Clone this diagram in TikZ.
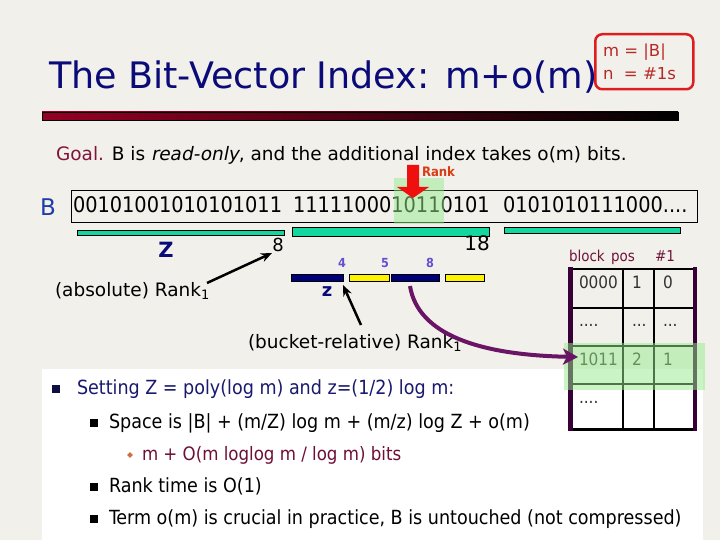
\documentclass[tikz,border=0pt]{standalone}
\usepackage{fontspec}
\setmainfont{DejaVu Sans}
\newfontfamily\cond{DejaVu Sans Condensed}
\newfontfamily\regit{DejaVu Sans}[FakeSlant=0.2]
\usetikzlibrary{arrows.meta,shapes.geometric}
\definecolor{bgc}{RGB}{242,240,234}
\definecolor{navyc}{RGB}{10,10,120}
\definecolor{redbox}{RGB}{222,30,30}
\definecolor{redtxt}{RGB}{185,40,40}
\definecolor{barL}{RGB}{150,0,35}
\definecolor{goalc}{RGB}{128,20,60}
\definecolor{rankc}{RGB}{215,60,20}
\definecolor{arrred}{RGB}{240,15,15}
\definecolor{blueB}{RGB}{30,60,170}
\definecolor{hlgreen}{RGB}{150,235,140}
\definecolor{tealbar}{RGB}{20,215,160}
\definecolor{navybar}{RGB}{0,0,120}
\definecolor{numc}{RGB}{100,80,210}
\definecolor{purp}{RGB}{105,20,100}
\definecolor{tabborder}{RGB}{55,0,55}
\definecolor{hdrc}{RGB}{110,20,60}
\definecolor{cellc}{RGB}{50,50,50}
\definecolor{lvl1}{RGB}{25,25,110}
\definecolor{lvl3}{RGB}{110,15,55}
\definecolor{diamc}{RGB}{205,110,60}
\tikzset{
  txt/.style={anchor=base west, inner sep=0pt, outer sep=0pt},
  tbar/.style={draw=black, line width=0.8pt, fill=tealbar},
  nbar/.style={draw=black, line width=0.6pt, fill=navybar},
  ybar/.style={draw=black, line width=0.6pt, fill=yellow},
  num/.style={inner sep=0pt, text=numc, font=\cond\bfseries\fontsize{12.5}{13}\selectfont},
  cell/.style={txt, text=cellc, font=\cond\fontsize{17}{18}\selectfont},
  blk/.style={arrows={-Stealth[length=11pt,width=9pt]}, line width=2.5pt, black},
  sq/.style={fill=#1, minimum size=8pt, inner sep=0pt},
  bl/.style={txt, font=\cond\fontsize{19.5}{22}\selectfont},
}
\begin{document}
\begin{tikzpicture}[x=1pt,y=-1pt]
\fill[bgc] (0,0) rectangle (720,540);
\useasboundingbox (0,0) rectangle (720,540);
\fill[white] (42,369) rectangle (703,540);
% title
\node[txt, text=navyc, font=\fontsize{36.5}{40}\selectfont] (title) at (49,89) {The Bit-Vector Index: m+o(m)};
\node[draw=redbox, line width=2.5pt, rounded corners=7pt, minimum width=98pt, minimum height=55pt, anchor=north west, inner sep=0pt] (defs) at (594,33) {};
\node[txt, text=redtxt, font=\fontsize{16.5}{20}\selectfont] (mdef) at (603,57) {m = |B|};
\node[txt, text=redtxt, font=\fontsize{16.5}{20}\selectfont] (ndef) at (603,80) {n\ \ = \#1s};
\shade[left color=barL, right color=black, draw=black, line width=0.4pt] (42,112) rectangle (678,120);
% goal
\node[txt, font=\fontsize{18.5}{20}\selectfont] (goal) at (56,161) {\textcolor{goalc}{Goal.} B is {\regit read-only}, and the additional index takes o(m) bits.};
% bit vector
\node[txt, text=blueB, font=\fontsize{23}{24}\selectfont] (Blab) at (40,215) {B};
\node[draw=black, line width=0.9pt, minimum width=626pt, minimum height=32pt, anchor=north west, inner sep=0pt] (bbox) at (71,190) {};
\node[txt, font=\cond\fontsize{21.5}{24}\selectfont] (b1) at (73,213) {00101001010101011};
\node[txt, font=\cond\fontsize{21.5}{24}\selectfont] (b2) at (293,213) {1111100010110101};
\node[txt, font=\cond\fontsize{21.5}{24}\selectfont] (b3) at (503,213) {0101010111000....};
\fill[hlgreen, opacity=0.5] (394,178) rectangle (444,224);
% rank arrow
\fill[arrred] (407,165) -- (419,165) -- (419,187) -- (429,187) -- (413,198) -- (397,187) -- (407,187) -- cycle;
\node[txt, text=rankc, font=\cond\bfseries\fontsize{13}{14}\selectfont] (rank) at (422,177) {Rank};
% superblock bars
\draw[tbar] (77,230) rectangle (284,235);
\draw[tbar] (292,227) rectangle (489,236);
\draw[tbar] (504,227) rectangle (680,233);
\node[inner sep=0pt, text=navyc, font=\bfseries\fontsize{21}{22}\selectfont] (Zlab) at (166,250) {Z};
\node[inner sep=0pt, font=\fontsize{18}{20}\selectfont] (eight) at (278,245) {8};
\node[inner sep=0pt, font=\fontsize{20}{22}\selectfont] (eighteen) at (477,243) {18};
\node[txt, font=\fontsize{18.5}{20}\selectfont] (abs) at (55,296) {(absolute) Rank$_{\mathrm{1}}$};
% block bars
\draw[nbar] (291,274) rectangle (343,281);
\draw[ybar] (349,274) rectangle (389,281);
\draw[nbar] (391,274) rectangle (439,281);
\draw[ybar] (445,274) rectangle (484,281);
\node[num] (n4) at (342,263) {4};
\node[num] (n5) at (385,263) {5};
\node[num] (n8) at (430,263) {8};
\node[inner sep=0pt, text=navyc, font=\bfseries\fontsize{18}{20}\selectfont] (zlab) at (327,292) {z};
\node[txt, font=\fontsize{18.5}{20}\selectfont] (rel) at (248,348) {(bucket-relative) Rank$_{\mathrm{1}}$};
\coordinate (absEnd) at (272,253);
\coordinate (absStart) at (207,283);
\coordinate (relEnd) at (343,285);
\coordinate (relStart) at (361,325);
\coordinate (pStart) at (410,286);
\draw[blk] (absStart) -- (absEnd);
\draw[blk] (relStart) -- (relEnd);
% table
\node[txt, text=hdrc, font=\cond\fontsize{15}{16}\selectfont] (hblock) at (569,261) {block};
\node[txt, text=hdrc, font=\cond\fontsize{15}{16}\selectfont] (hpos) at (611,261) {pos};
\node[txt, text=hdrc, font=\cond\fontsize{15}{16}\selectfont] (hones) at (655,261) {\#1};
\draw[black, line width=1.8pt] (570,308) -- (695,308) (570,346) -- (695,346) (570,384) -- (695,384);
\draw[black, line width=1.8pt] (623,269) -- (623,429) (654,269) -- (654,429);
\draw[black, line width=2pt] (570,269) -- (695,269);
\draw[black, line width=3pt] (568,429.5) -- (697,429.5);
\draw[tabborder, line width=4.5pt] (570.5,267) -- (570.5,431);
\draw[tabborder, line width=3.5pt] (695,267) -- (695,431);
\node[cell] (c11) at (579,288) {0000};
\node[cell] (c12) at (632,288) {1};
\node[cell] (c13) at (663,288) {0};
\node[cell] (c21) at (579,326) {....};
\node[cell] (c22) at (632,326) {...};
\node[cell] (c23) at (663,326) {...};
\node[cell] (c31) at (579,365) {1011};
\node[cell] (c32) at (632,365) {2};
\node[cell] (c33) at (663,365) {1};
\node[cell] (c41) at (579,403) {....};
\fill[hlgreen, opacity=0.5] (564,343) rectangle (705,390);
\draw[purp, line width=4pt, arrows={-Stealth[length=15pt,width=16pt,inset=4pt]}] (pStart) .. controls (418,335) and (480,355) .. ([xshift=-1pt]c31.base west |- 0,357);
% bullets
\node[sq=lvl1!60!black] (s1) at (56,389) {};
\node[bl, text=lvl1] (t1) at (77,394) {Setting Z = poly(log m) and z=(1/2) log m:};
\node[sq=black] (s2) at (94,423) {};
\node[bl] (t2) at (109,428) {Space is |B| + (m/Z) log m + (m/z) log Z + o(m)};
\node[diamond, fill=diamc, minimum size=6pt, inner sep=0pt] (d3) at (130,455) {};
\node[bl, text=lvl3, font=\cond\fontsize{18.5}{20}\selectfont] (t3) at (142,460) {m + O(m loglog m / log m) bits};
\node[sq=black] (s4) at (94,487) {};
\node[bl] (t4) at (109,492) {Rank time is O(1)};
\node[sq=black] (s5) at (94,519) {};
\node[bl] (t5) at (109,524) {Term o(m) is crucial in practice, B is untouched (not compressed)};
\end{tikzpicture}
\end{document}
